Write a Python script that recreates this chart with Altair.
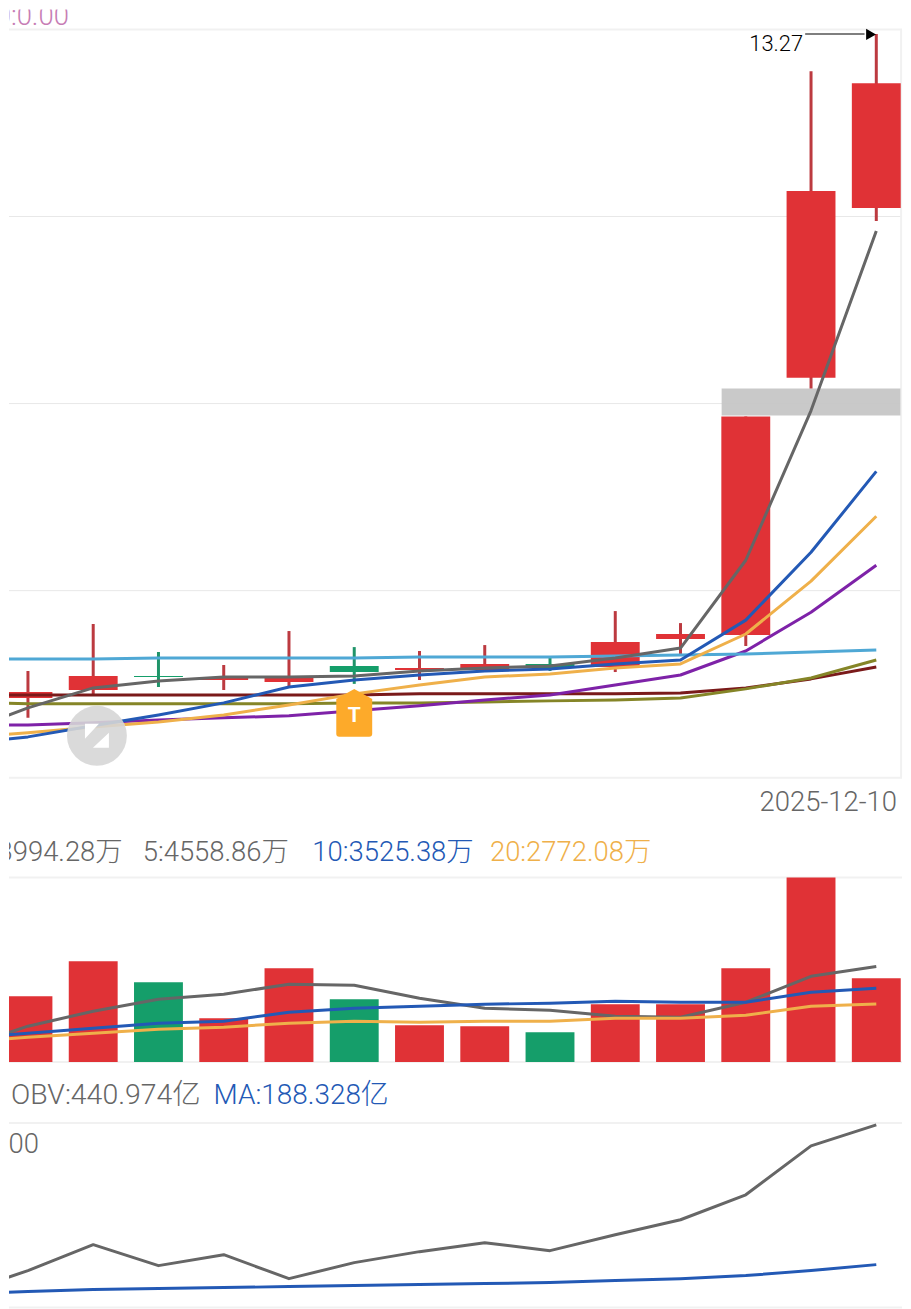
import altair as alt
import pandas as pd

FONT = "Roboto, 'Noto Sans CJK SC'"
RED, GREEN = "#e03236", "#159e6a"
WICK_RED, WICK_GREEN = "#bc3a40", "#1f9469"
GRID, EDGE = "#e8e8e8", "#f1f1f1"

# bar index (0 = first visible candle); the lines start just left of it
candle_x = list(range(14))
line_x = [-0.41] + candle_x[:14]

# candles
opens = [9.012, 9.063, 9.153, 9.127, 9.114, 9.217, 9.191, 9.191, 9.204, 9.210, 9.390, 9.415, 11.066, 12.154]
closes = [9.050, 9.153, 9.146, 9.146, 9.140, 9.178, 9.204, 9.230, 9.230, 9.370, 9.422, 10.817, 12.263, 12.954]
highs = [9.185, 9.486, 9.306, 9.223, 9.441, 9.338, 9.313, 9.351, 9.268, 9.569, 9.492, 10.817, 13.031, 13.27]
lows = [8.884, 9.025, 9.082, 9.063, 9.076, 9.102, 9.127, 9.191, 9.185, 9.178, 9.294, 9.345, 10.996, 12.071]
dirs = ["up", "up", "down", "up", "up", "down", "up", "up", "down", "up", "up", "up", "up", "up"]

# price averages
ma_gray = [8.884, 8.948, 9.076, 9.121, 9.146, 9.146, 9.153, 9.185, 9.204, 9.217, 9.268, 9.332, 9.895, 10.855, 12.007]
ma_blue = [8.743, 8.762, 8.833, 8.903, 8.980, 9.082, 9.127, 9.159, 9.185, 9.198, 9.230, 9.255, 9.511, 9.946, 10.465]
ma_orange = [8.775, 8.788, 8.826, 8.858, 8.903, 8.967, 9.038, 9.095, 9.146, 9.166, 9.204, 9.230, 9.422, 9.761, 10.177]
ma_purple = [8.839, 8.839, 8.852, 8.871, 8.884, 8.897, 8.929, 8.961, 8.999, 9.031, 9.095, 9.159, 9.313, 9.562, 9.863]
ma_sky = [9.262, 9.262, 9.262, 9.268, 9.268, 9.268, 9.268, 9.274, 9.274, 9.274, 9.281, 9.287, 9.294, 9.306, 9.319]
ma_maroon = [9.031, 9.031, 9.031, 9.031, 9.031, 9.031, 9.031, 9.038, 9.038, 9.038, 9.038, 9.044, 9.076, 9.134, 9.210]
ma_olive = [8.980, 8.974, 8.974, 8.974, 8.974, 8.974, 8.980, 8.980, 8.986, 8.993, 8.999, 9.012, 9.070, 9.140, 9.255]

# volume (万)
volumes = [3142, 4808, 3808, 2094, 4474, 2999, 1761, 1714, 1428, 2761, 2761, 4474, 8806, 3994.28]
vol_dirs = ["up", "up", "down", "up", "up", "down", "up", "up", "down", "up", "up", "up", "up", "up"]
vol_ma5 = [1285, 1714, 2428, 2999, 3237, 3713, 3665, 3046, 2570, 2475, 2190, 2142, 2856, 4094, 4558.86]
vol_ma10 = [1285, 1380, 1618, 1856, 1952, 2380, 2570, 2666, 2761, 2808, 2904, 2856, 2856, 3332, 3525.38]
vol_ma20 = [1095, 1190, 1380, 1571, 1666, 1856, 1952, 1904, 1952, 1952, 2094, 2094, 2237, 2666, 2772.08]

# OBV (亿)
obv = [161.2, 177.5, 224.4, 186.5, 206.3, 163.0, 191.9, 211.8, 228.0, 213.6, 242.4, 269.5, 314.6, 403.0, 440.974]
obv_ma = [137.8, 139.6, 143.2, 145.0, 146.8, 148.6, 150.4, 152.2, 154.0, 155.8, 159.4, 163.0, 168.5, 177.5, 188.328]

price_ticks = [9.7, 10.9, 12.1]
price_edges = [8.5, 13.3]
vol_edges = [0, 8806]
obv_edges = [110.7, 444.5]

W = 895
X = alt.X("x:Q", scale=alt.Scale(domain=[-0.2905, 13.394], nice=False, zero=False, padding=0), axis=None)
price_y = alt.Scale(domain=price_edges, range=[770, 20], nice=False, zero=False, padding=0)
vol_y = alt.Scale(domain=vol_edges, range=[233, 48], nice=False, zero=False, padding=0)
obv_y = alt.Scale(domain=obv_edges, range=[239, 54], nice=False, zero=False, padding=0)


def Y(scale, field="y"):
    return alt.Y(f"{field}:Q", scale=scale, axis=None)


def line(values, color, scale, width=3):
    df = pd.DataFrame({"x": line_x, "y": values})
    return alt.Chart(df).mark_line(color=color, strokeWidth=width, clip=True, strokeJoin="round").encode(x=X, y=Y(scale))


def edges(values, scale, color=EDGE):
    df = pd.DataFrame({"y": values})
    return alt.Chart(df).mark_rule(color=color, strokeWidth=2).encode(y=Y(scale))


def label(text, px, py, top, color, align="left", size=27.5):
    return alt.Chart(pd.DataFrame({"t": [text]})).mark_text(
        align=align, baseline="alphabetic", font=FONT, fontSize=size, fontWeight=300, color=color, clip=True
    ).encode(x=alt.value(px - 8), y=alt.value(py - top), text="t:N")


cdf = pd.DataFrame({"x": candle_x, "open": opens, "close": closes, "high": highs, "low": lows, "dir": dirs})
cdf["top"] = cdf[["open", "close"]].max(axis=1)
cdf["bot"] = cdf[["open", "close"]].min(axis=1)
cdf["wick_color"] = cdf["dir"].map({"up": WICK_RED, "down": WICK_GREEN})
cdf["body_color"] = cdf["dir"].map({"up": RED, "down": GREEN})

grid = alt.Chart(pd.DataFrame({"y": price_ticks})).mark_rule(color=GRID, strokeWidth=1).encode(y=Y(price_y))
right_edge = alt.Chart(pd.DataFrame({"x": [13.38], "y": [8.5], "y2": [13.3]})).mark_rule(color=EDGE, strokeWidth=2).encode(
    x=X, y=Y(price_y), y2="y2:Q"
)
band = alt.Chart(pd.DataFrame({"x": [10.63], "x2": [13.37], "y": [10.996], "y2": [10.823]})).mark_rect(
    color="#c4c4c4", opacity=0.92, clip=True
).encode(x=X, x2="x2:Q", y=Y(price_y), y2="y2:Q")
wicks = alt.Chart(cdf).mark_rule(strokeWidth=3, clip=True).encode(
    x=X, y=Y(price_y, "high"), y2="low:Q", color=alt.Color("wick_color:N", scale=None)
)
bodies = alt.Chart(cdf).mark_bar(size=49, clip=True).encode(
    x=X, y=Y(price_y, "top"), y2="bot:Q", color=alt.Color("body_color:N", scale=None)
)

arrow_line = alt.Chart(pd.DataFrame({"x": [11.91], "x2": [12.82], "y": [13.27]})).mark_rule(color="#555555", strokeWidth=1.5).encode(
    x=X, x2="x2:Q", y=Y(price_y)
)
arrow_head = alt.Chart(pd.DataFrame({"x": [12.92], "y": [13.268]})).mark_point(
    shape="triangle-right", filled=True, color="black", opacity=1, size=130
).encode(x=X, y=Y(price_y))

circle = alt.Chart(pd.DataFrame({"x": [1.057], "y": [8.769]})).mark_point(
    shape="circle", filled=True, color="#d6d6d6", opacity=0.9, size=3600
).encode(x=X, y=Y(price_y))
circle_icon = alt.Chart(pd.DataFrame({"x": [1.057], "y": [8.769]})).mark_point(
    shape="M-.75,-.75L.125,-.75L-.75,.19ZM.75,-.19L.75,.75L-.25,.75Z", filled=True, color="white", opacity=1, size=1024
).encode(x=X, y=Y(price_y))
badge = alt.Chart(pd.DataFrame({"x": [5.0], "y": [8.916]})).mark_point(
    shape="M0,-1L.75,-.58L.75,.875Q.75,1,.625,1L-.625,1Q-.75,1,-.75,.875L-.75,-.58Z",
    filled=True, color="#fdaa2a", opacity=1, size=2304,
).encode(x=X, y=Y(price_y))
badge_text = alt.Chart(pd.DataFrame({"x": [5.0], "y": [8.916], "t": ["T"]})).mark_text(
    font="Roboto", fontSize=21, fontWeight="bold", color="white", baseline="middle", dy=3
).encode(x=X, y=Y(price_y), text="t:N")

panel_a = alt.layer(
    edges(price_edges, price_y), grid, right_edge, band, wicks, bodies,
    line(ma_maroon, "#7a1a1a", price_y), line(ma_olive, "#858527", price_y), line(ma_purple, "#7e22a8", price_y),
    line(ma_sky, "#4fa8d5", price_y), line(ma_orange, "#efb04a", price_y), line(ma_blue, "#2359b5", price_y),
    line(ma_gray, "#666666", price_y),
    circle, circle_icon, badge, badge_text, arrow_line, arrow_head,
    label("0:0.00", 68, 24, 8, "#c77db5", "right"),
    label("13.27", 804, 50, 8, "black", "right", 22),
    label("2025-12-10", 898, 811, 8, "#666666", "right"),
).properties(width=W, height=822)

vdf = pd.DataFrame({"x": candle_x, "y": volumes, "y2": [0] * 14, "dir": vol_dirs})
vdf["bar_color"] = vdf["dir"].map({"up": RED, "down": GREEN})
vol_bars = alt.Chart(vdf).mark_bar(size=49, clip=True).encode(
    x=X, y=Y(vol_y), y2="y2:Q", color=alt.Color("bar_color:N", scale=None)
)
panel_b = alt.layer(
    edges(vol_edges, vol_y), vol_bars,
    line(vol_ma5, "#666666", vol_y), line(vol_ma10, "#2359b5", vol_y), line(vol_ma20, "#efb04a", vol_y),
    label("3994.28万", 122, 861, 830, "#666666", "right"),
    label("5:4558.86万", 142, 861, 830, "#666666"),
    label("10:3525.38万", 312, 861, 830, "#2359b5"),
    label("20:2772.08万", 490, 861, 830, "#efb04a"),
).properties(width=W, height=240)

panel_c = alt.layer(
    edges(obv_edges, obv_y),
    line(obv_ma, "#2359b5", obv_y), line(obv, "#666666", obv_y),
    label("OBV:440.974亿", 10, 1105, 1070, "#666666", size=28.5),
    label("MA:188.328亿", 213, 1105, 1070, "#2359b5", size=28),
    label("0.00", 38, 1154, 1070, "#666666", "right"),
).properties(width=W, height=239)

chart = alt.vconcat(panel_a, panel_b, panel_c, spacing=0, padding=0).configure_view(stroke=None).configure_concat(spacing=0)
chart.save("out.html", embed_options={"renderer": "svg", "actions": False})
